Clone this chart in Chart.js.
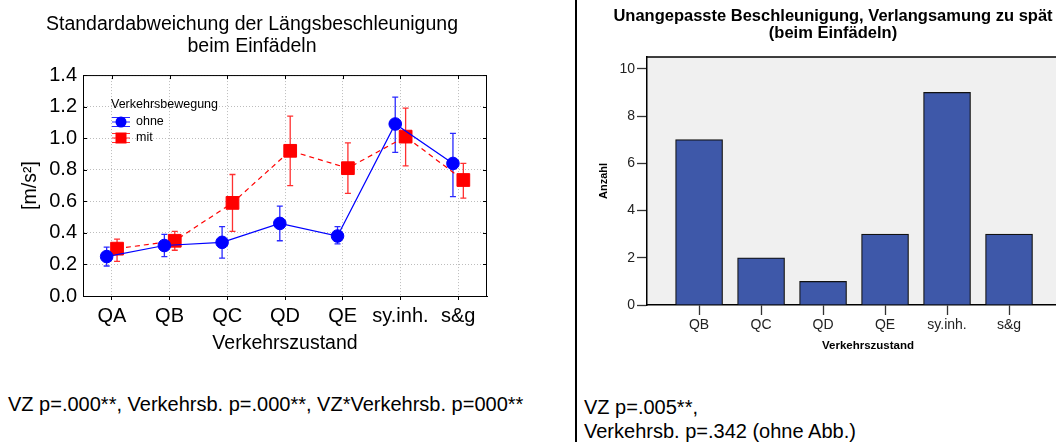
<!DOCTYPE html>
<html>
<head>
<meta charset="utf-8">
<script src="https://cdn.jsdelivr.net/npm/chart.js@4.4.0/dist/chart.umd.min.js"></script>
<style>
  html, body { margin: 0; padding: 0; background: #fff; }
  body { width: 1056px; height: 442px; position: relative; overflow: hidden;
         font-family: "Liberation Sans", Arial, sans-serif; color: #000; }
  #left { position: absolute; left: 0; top: 0; }
  #right { position: absolute; left: 577px; top: 0; }
  #divider { position: absolute; left: 575px; top: 0; width: 2px; height: 442px; background: #000; }
  .note { position: absolute; font-size: 20px; line-height: 24px; white-space: nowrap; }
</style>
</head>
<body>
<canvas id="left" width="505" height="360"></canvas>
<div id="divider"></div>
<canvas id="right" width="512" height="360"></canvas>
<div class="note" style="left:8px; top:392px;">VZ p=.000**, Verkehrsb. p=.000**, VZ*Verkehrsb. p=000**</div>
<div class="note" style="left:584px; top:395px;">VZ p=.005**,<br>Verkehrsb. p=.342 (ohne Abb.)</div>
<script>
Chart.defaults.font.family = "'Liberation Sans', Arial, sans-serif";
Chart.defaults.color = '#000';

// left chart data
const zustaende = ['QA', 'QB', 'QC', 'QD', 'QE', 'sy.inh.', 's&g'];
const ohneMittel = [0.25, 0.32, 0.34, 0.46, 0.38, 1.09, 0.84];
const ohneUnten  = [0.19, 0.25, 0.24, 0.35, 0.33, 0.91, 0.63];
const ohneOben   = [0.31, 0.39, 0.44, 0.57, 0.44, 1.26, 1.03];
const mitMittel  = [0.30, 0.35, 0.59, 0.92, 0.81, 1.01, 0.735];
const mitUnten   = [0.22, 0.29, 0.41, 0.70, 0.65, 0.825, 0.62];
const mitOben    = [0.36, 0.41, 0.77, 1.14, 0.97, 1.19, 0.84];

// right chart data
const zustaendeB = ['QB', 'QC', 'QD', 'QE', 'sy.inh.', 's&g'];
const anzahl = [7, 2, 1, 3, 9, 3];

const legendTitle = 'Verkehrsbewegung';

function points(values, shift) {
  return values.map((v, i) => ({ x: i + shift, y: v }));
}

//error bars, drawn before the markers
const errorBars = {
  id: 'errorBars',
  beforeDatasetsDraw(chart) {
    const { ctx, scales: { x, y } } = chart;
    chart.data.datasets.forEach(ds => {
      ctx.save();
      ctx.strokeStyle = ds.errColor;
      ctx.lineWidth = 1.3;
      ds.data.forEach((p, i) => {
        const px = x.getPixelForValue(p.x);
        const top = y.getPixelForValue(ds.high[i]);
        const bot = y.getPixelForValue(ds.low[i]);
        ctx.beginPath();
        ctx.moveTo(px, top); ctx.lineTo(px, bot);
        ctx.moveTo(px - 3, top); ctx.lineTo(px + 3, top);
        ctx.moveTo(px - 3, bot); ctx.lineTo(px + 3, bot);
        ctx.stroke();
      });
      ctx.restore();
    });
  }
};

//box + inner ticks + legend
const frameLeft = {
  id: 'frameLeft',
  afterDraw(chart) {
    const { ctx, chartArea: a, scales: { x, y } } = chart;
    ctx.save();
    ctx.strokeStyle = '#000';
    ctx.lineWidth = 1;
    ctx.strokeRect(a.left + 0.5, a.top + 0.5, a.width - 1, a.height);
    ctx.beginPath();
    y.ticks.forEach(t => {
      const py = Math.round(y.getPixelForValue(t.value)) + 0.5;
      ctx.moveTo(a.left, py); ctx.lineTo(a.left + 4, py);
      ctx.moveTo(a.right, py); ctx.lineTo(a.right - 4, py);
    });
    x.ticks.forEach(t => {
      const px = Math.round(x.getPixelForValue(t.value)) + 0.5;
      ctx.moveTo(px, a.top); ctx.lineTo(px, a.top + 4);
    });
    ctx.stroke();

    // legend
    const lx = a.left + 28;
    ctx.font = "12.5px 'Liberation Sans', Arial, sans-serif";
    ctx.fillStyle = '#000';
    ctx.textBaseline = 'middle';
    ctx.textAlign = 'left';
    ctx.fillText(legendTitle, lx, 105);
    chart.data.datasets.forEach((ds, i) => {
      const cy = 122 + i * 16;
      const cx = lx + 10;
      ctx.strokeStyle = ds.errColor;
      ctx.lineWidth = 1;
      ctx.beginPath();
      ctx.moveTo(cx - 9, cy - 4.5); ctx.lineTo(cx + 9, cy - 4.5);
      ctx.moveTo(cx - 9, cy + 4.5); ctx.lineTo(cx + 9, cy + 4.5);
      ctx.moveTo(cx - 9, cy); ctx.lineTo(cx + 9, cy);
      ctx.stroke();
      ctx.fillStyle = ds.backgroundColor;
      if (ds.pointStyle === 'rect') {
        ctx.fillRect(cx - 5.5, cy - 5.5, 11, 11);
      } else {
        ctx.beginPath(); ctx.arc(cx, cy, 5.5, 0, Math.PI * 2); ctx.fill();
      }
      ctx.fillStyle = '#000';
      ctx.fillText(ds.label, lx + 25, cy);
    });
    ctx.restore();
  }
};

new Chart(document.getElementById('left'), {
  type: 'line',
  data: {
    datasets: [
      {
        label: 'ohne',
        data: points(ohneMittel, -0.09),
        low: ohneUnten, high: ohneOben,
        errColor: '#2a2aff',
        borderColor: '#0000ff',
        backgroundColor: '#0000ff',
        borderWidth: 1.2,
        pointStyle: 'circle',
        pointRadius: 6.3,
        pointBorderWidth: 1
      },
      {
        label: 'mit',
        data: points(mitMittel, 0.09),
        low: mitUnten, high: mitOben,
        errColor: '#ff3030',
        borderColor: '#ff0000',
        backgroundColor: '#ff0000',
        borderWidth: 1.2,
        borderDash: [5, 4],
        pointStyle: 'rect',
        pointRadius: 9,
        pointBorderWidth: 1
      }
    ]
  },
  options: {
    responsive: false,
    animation: false,
    layout: { padding: { left: 17, right: 18, top: 0, bottom: 0 } },
    plugins: {
      legend: { display: false },
      tooltip: { enabled: false },
      title: {
        display: true,
        text: ['Standardabweichung der Längsbeschleunigung', 'beim Einfädeln'],
        font: { size: 19.5, weight: 'normal', lineHeight: 1.13 },
        color: '#000',
        padding: { top: 14, bottom: 17 }
      }
    },
    scales: {
      x: {
        type: 'linear',
        min: -0.5,
        max: 6.5,
        afterBuildTicks: s => { s.ticks = zustaende.map((_, i) => ({ value: i })); },
        afterFit: s => { s.height = 64; },
        ticks: {
          callback: v => zustaende[v],
          font: { size: 20 },
          padding: 4,
          maxRotation: 0,
          autoSkip: false
        },
        grid: { color: '#bdbdbd', tickColor: '#000', tickLength: 4 },
        border: { color: '#000', dash: [1, 2] },
        title: { display: true, text: 'Verkehrszustand', font: { size: 19.5 }, padding: { top: 0, bottom: 5 } }
      },
      y: {
        min: 0,
        max: 1.4,
        afterFit: s => { s.width = 66; },
        ticks: {
          stepSize: 0.2,
          callback: v => v.toFixed(1),
          font: { size: 20 },
          padding: 6
        },
        grid: { color: '#bdbdbd', drawTicks: false },
        border: { color: '#000', dash: [1, 2] },
        title: { display: true, text: '[m/s²]', font: { size: 19.5 }, padding: { top: 2, bottom: 0 } }
      }
    }
  },
  plugins: [errorBars, frameLeft]
});

//bar chart background and top line
const frameRight = {
  id: 'frameRight',
  beforeDraw(chart) {
    const { ctx, chartArea: a } = chart;
    ctx.save();
    ctx.fillStyle = '#f0f0f0';
    ctx.fillRect(a.left, a.top, a.width, a.height);
    ctx.restore();
  },
  afterDraw(chart) {
    const { ctx, chartArea: a } = chart;
    ctx.save();
    ctx.strokeStyle = '#000';
    ctx.lineWidth = 1.5;
    ctx.beginPath();
    ctx.moveTo(a.left, a.top); ctx.lineTo(a.right, a.top);
    ctx.stroke();
    ctx.restore();
  }
};

new Chart(document.getElementById('right'), {
  type: 'bar',
  data: {
    datasets: [{
      data: anzahl.map((v, i) => ({ x: i, y: v })),
      backgroundColor: '#3e58a9',
      borderColor: '#111',
      borderWidth: 1.2,
      barThickness: 47
    }]
  },
  options: {
    responsive: false,
    animation: false,
    layout: { padding: 0 },
    plugins: {
      legend: { display: false },
      tooltip: { enabled: false },
      title: {
        display: true,
        text: ['Unangepasste Beschleunigung, Verlangsamung zu spät', '(beim Einfädeln)'],
        font: { size: 16.5, weight: 'bold', lineHeight: 1.06 },
        color: '#000',
        padding: { top: 7.5, bottom: 14.5 }
      }
    },
    scales: {
      x: {
        type: 'linear',
        offset: false,
        min: -0.84,
        max: 6.29,
        afterBuildTicks: s => { s.ticks = zustaendeB.map((_, i) => ({ value: i })); },
        afterFit: s => { s.height = 55; },
        ticks: {
          callback: v => zustaendeB[v],
          font: { size: 14 },
          color: '#222',
          padding: 2,
          maxRotation: 0,
          autoSkip: false
        },
        grid: { offset: false, drawOnChartArea: false, tickLength: 10, tickColor: '#333', tickWidth: 1.3 },
        border: { color: '#000', width: 1.5 },
        title: { display: true, text: 'Verkehrszustand', font: { size: 11.5, weight: 'bold' }, padding: { top: 0, bottom: 7 } }
      },
      y: {
        min: 0,
        max: 10.5,
        afterFit: s => { s.width = 70; },
        ticks: {
          stepSize: 2,
          includeBounds: false,
          font: { size: 14 },
          color: '#222',
          padding: 2
        },
        grid: { drawOnChartArea: false, tickLength: 10, tickColor: '#333', tickWidth: 1.3 },
        border: { color: '#000', width: 1.5 },
        title: { display: true, text: 'Anzahl', font: { size: 11, weight: 'bold' }, padding: { top: 20, bottom: 0 } }
      }
    }
  },
  plugins: [frameRight]
});
</script>
</body>
</html>
